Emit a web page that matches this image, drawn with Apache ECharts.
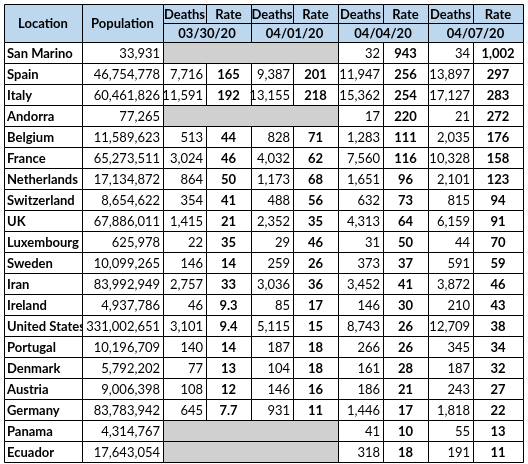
<!DOCTYPE html>
<html><head><meta charset="utf-8">
<script src="https://cdn.jsdelivr.net/npm/echarts@6/dist/echarts.min.js"></script>
<style>html,body{margin:0;padding:0;background:#fff}#c{width:528px;height:464px}</style>
</head><body><div id="c"></div>
<script>
const countries=["San Marino","Spain","Italy","Andorra","Belgium","France","Netherlands","Switzerland","UK","Luxembourg","Sweden","Iran","Ireland","United States","Portugal","Denmark","Austria","Germany","Panama","Ecuador"];
const population=["33,931","46,754,778","60,461,826","77,265","11,589,623","65,273,511","17,134,872","8,654,622","67,886,011","625,978","10,099,265","83,992,949","4,937,786","331,002,651","10,196,709","5,792,202","9,006,398","83,783,942","4,314,767","17,643,054"];
const dates=["03/30/20","04/01/20","04/04/20","04/07/20"];
const deaths0330=[null,"7,716","11,591",null,"513","3,024","864","354","1,415","22","146","2,757","46","3,101","140","77","108","645",null,null];
const rate0330=[null,"165","192",null,"44","46","50","41","21","35","14","33","9.3","9.4","14","13","12","7.7",null,null];
const deaths0401=[null,"9,387","13,155",null,"828","4,032","1,173","488","2,352","29","259","3,036","85","5,115","187","104","146","931",null,null];
const rate0401=[null,"201","218",null,"71","62","68","56","35","46","26","36","17","15","18","18","16","11",null,null];
const deaths0404=["32","11,947","15,362","17","1,283","7,560","1,651","632","4,313","31","373","3,452","146","8,743","266","161","186","1,446","41","318"];
const rate0404=["943","256","254","220","111","116","96","73","64","50","37","41","30","26","26","28","21","17","10","18"];
const deaths0407=["34","13,897","17,127","21","2,035","10,328","2,101","815","6,159","44","591","3,872","210","12,709","345","187","243","1,818","55","191"];
const rate0407=["1,002","297","283","272","176","158","123","94","91","70","59","46","43","38","34","32","27","22","13","11"];
const deaths=[deaths0330,deaths0401,deaths0404,deaths0407];
const rates=[rate0330,rate0401,rate0404,rate0407];

const edges=[4,82,163,206,251,293,338,383,428,473,523];
const tblTop=4, headMid=23, headBot=42, rowH=21;
const F='Lato, "Open Sans", sans-serif';
const cells=[];
cells.push({x0:0,x1:1,y0:tblTop,y1:headBot,t:"Location",fill:'#bdd7ee',bold:1,al:'center'});
cells.push({x0:1,x1:2,y0:tblTop,y1:headBot,t:"Population",fill:'#bdd7ee',bold:1,al:'center'});
dates.forEach((d,i)=>{
  const c=2+2*i;
  cells.push({x0:c,x1:c+1,y0:tblTop,y1:headMid,t:"Deaths",fill:'#bdd7ee',bold:1,al:'center'});
  cells.push({x0:c+1,x1:c+2,y0:tblTop,y1:headMid,t:"Rate",fill:'#bdd7ee',bold:1,al:'center'});
  cells.push({x0:c,x1:c+2,y0:headMid,y1:headBot,t:d,fill:'#bdd7ee',bold:1,al:'center'});
});
countries.forEach((n,r)=>{
  const y0=headBot+r*rowH,y1=y0+rowH;
  cells.push({x0:0,x1:1,y0,y1,t:n,bold:1,al:'left'});
  cells.push({x0:1,x1:2,y0,y1,t:population[r],al:'right'});
  const start=deaths[0][r]===null?2:0;
  if(start===2) cells.push({x0:2,x1:6,y0,y1,t:"",fill:'#d0d0d0'});
  for(let i=start;i<4;i++){const c=2+2*i;
    cells.push({x0:c,x1:c+1,y0,y1,t:deaths[i][r],al:'right'});
    cells.push({x0:c+1,x1:c+2,y0,y1,t:rates[i][r],bold:1,al:'center'});}
});
const data=cells.map(c=>[edges[c.x0],c.y0,edges[c.x1],c.y1]);
const chart=echarts.init(document.getElementById('c'));
chart.setOption({
  animation:false,
  grid:{left:0,right:0,top:0,bottom:0},
  xAxis:{type:'value',min:0,max:528,show:false},
  yAxis:{type:'value',min:0,max:464,inverse:true,show:false},
  series:[{
    type:'custom',
    clip:false,
    data:data,
    renderItem:(p,api)=>{
      const a=api.coord([api.value(0),api.value(1)]);
      const b=api.coord([api.value(2),api.value(3)]);
      const c=cells[p.dataIndex];
      const al=c.al||'center';
      const tx=al==='left'?a[0]+3:al==='right'?b[0]-3:(a[0]+b[0])/2;
      return {type:'group',children:[
        {type:'rect',shape:{x:a[0]+0.5,y:a[1]+0.5,width:b[0]-a[0],height:b[1]-a[1]},style:{fill:c.fill||'#fff',stroke:'#000',lineWidth:1}},
        {type:'text',style:{text:c.t||'',x:tx,y:(a[1]+b[1])/2+1,align:al,verticalAlign:'middle',font:(c.bold?'bold ':'')+'13px '+F,fill:'#000'}}
      ]};
    }
  }]
});
</script></body></html>
